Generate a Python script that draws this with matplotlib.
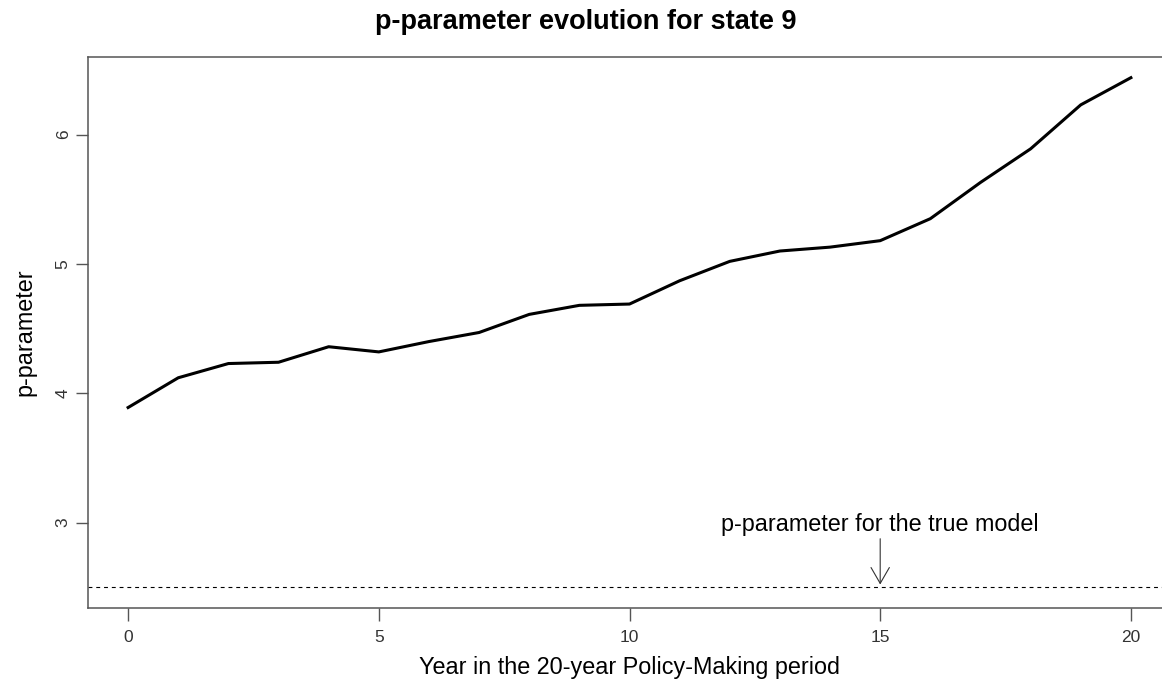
import matplotlib.pyplot as plt

years = list(range(21))
p_param = [3.89, 4.12, 4.23, 4.24, 4.36, 4.32, 4.40, 4.47, 4.61, 4.68, 4.69,
           4.87, 5.02, 5.10, 5.13, 5.18, 5.35, 5.63, 5.89, 6.23, 6.44]
true_p = 2.5
arrow_year = 15

plt.rcParams['font.family'] = ['Liberation Sans', 'DejaVu Sans']

fig = plt.figure(figsize=(11.62, 6.83), dpi=100)
ax = fig.add_axes([88 / 1162, 75 / 683, 1083 / 1162, 551 / 683])

ax.plot(years, p_param, color='black', lw=2.2, solid_joinstyle='round')
ax.axhline(true_p, color='black', lw=0.8, linestyle=(0, (3.5, 3.5)))
ax.annotate('', xy=(arrow_year, true_p), xytext=(arrow_year, 2.897),
            arrowprops=dict(arrowstyle='->, head_length=0.52, head_width=0.3',
                            color='#333333', lw=0.8, mutation_scale=22))
ax.text(arrow_year, 2.936, 'p-parameter for the true model',
        ha='center', va='baseline', fontsize=16.8)

ax.set_xlim(-0.8, 20.8)
ax.set_ylim(2.34, 6.6)
ax.set_xticks([0, 5, 10, 15, 20])
ax.set_yticks([3, 4, 5, 6])
ax.tick_params(length=9, width=1, color='#555555', labelcolor='#333333',
               labelsize=12.5)
ax.tick_params(axis='x', pad=7)
ax.tick_params(axis='y', pad=3.5)
for lbl in ax.get_yticklabels():
    lbl.set_rotation(90)
    lbl.set_va('center')
for s in ax.spines.values():
    s.set_color('#555555')
    s.set_linewidth(1.1)

ax.set_xlabel('Year in the 20-year Policy-Making period', fontsize=16.8,
              labelpad=8)
ax.set_ylabel('p-parameter', fontsize=16.8, labelpad=14)
fig.text(586 / 1162, 1 - 22 / 683, 'p-parameter evolution for state 9',
         ha='center', va='center', fontsize=19.5, fontweight='bold')

fig.savefig('out.png', dpi=100)
